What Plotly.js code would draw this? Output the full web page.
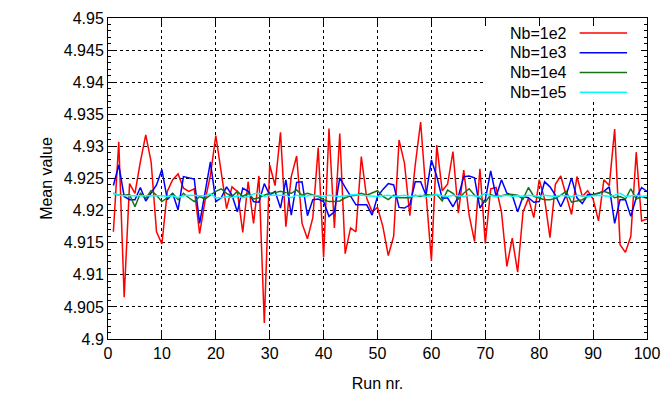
<!DOCTYPE html>
<html>
<head>
<meta charset="utf-8">
<script src="https://cdn.plot.ly/plotly-3.0.1.min.js"></script>
<style>html,body{margin:0;padding:0;background:#fff;}#plot{width:664px;height:399px;}</style>
</head>
<body>
<div id="plot"></div>
<script>
const runs = Array.from({length: 100}, (_, i) => i + 1);

const nb1e2 = [
 4.9167, 4.9307, 4.9065, 4.9242, 4.9227, 4.9276, 4.9318, 4.9276, 4.9167, 4.9148,
 4.9230, 4.9248, 4.9257, 4.9235, 4.9230, 4.9234, 4.9164, 4.9215, 4.9255, 4.9317,
 4.9260, 4.9203, 4.9237, 4.9230, 4.9166, 4.9245, 4.9180, 4.9254, 4.9025, 4.9271,
 4.9239, 4.9322, 4.9175, 4.9253, 4.9285, 4.9180, 4.9156, 4.9189, 4.9298, 4.9127,
 4.9328, 4.9173, 4.9320, 4.9133, 4.9173, 4.9167, 4.9284, 4.9219, 4.9198, 4.9205,
 4.9175, 4.9130, 4.9160, 4.9310, 4.9274, 4.9192, 4.9271, 4.9338, 4.9227, 4.9122,
 4.9302, 4.9231, 4.9241, 4.9292, 4.9196, 4.9263, 4.9193, 4.9152, 4.9265, 4.9149,
 4.9234, 4.9236, 4.9198, 4.9113, 4.9157, 4.9104, 4.9198, 4.9219, 4.9189, 4.9248,
 4.9218, 4.9158, 4.9241, 4.9254, 4.9224, 4.9194, 4.9253, 4.9222, 4.9231, 4.9218,
 4.9184, 4.9248, 4.9239, 4.9327, 4.9147, 4.9135, 4.9160, 4.9291, 4.9184, 4.9187
];

const nb1e3 = [
 4.9239, 4.9271, 4.9222, 4.9217, 4.9217, 4.9236, 4.9215, 4.9227, 4.9240, 4.9264,
 4.9217, 4.9227, 4.9201, 4.9253, 4.9251, 4.9249, 4.9180, 4.9230, 4.9276, 4.9214,
 4.9220, 4.9237, 4.9224, 4.9198, 4.9235, 4.9230, 4.9214, 4.9213, 4.9242, 4.9224,
 4.9230, 4.9204, 4.9248, 4.9193, 4.9244, 4.9245, 4.9192, 4.9217, 4.9218, 4.9214,
 4.9191, 4.9198, 4.9251, 4.9236, 4.9223, 4.9209, 4.9209, 4.9209, 4.9193, 4.9222,
 4.9233, 4.9242, 4.9240, 4.9205, 4.9204, 4.9209, 4.9245, 4.9245, 4.9224, 4.9279,
 4.9253, 4.9219, 4.9220, 4.9206, 4.9222, 4.9253, 4.9254, 4.9251, 4.9204, 4.9217,
 4.9262, 4.9222, 4.9248, 4.9227, 4.9224, 4.9198, 4.9222, 4.9220, 4.9213, 4.9214,
 4.9245, 4.9237, 4.9224, 4.9206, 4.9224, 4.9251, 4.9220, 4.9211, 4.9225, 4.9225,
 4.9227, 4.9230, 4.9237, 4.9180, 4.9217, 4.9217, 4.9191, 4.9220, 4.9236, 4.9230
];

const nb1e4 = [
 4.9227, 4.9224, 4.9224, 4.9225, 4.9206, 4.9227, 4.9219, 4.9231, 4.9224, 4.9214,
 4.9220, 4.9227, 4.9217, 4.9227, 4.9220, 4.9214, 4.9222, 4.9218, 4.9224, 4.9230,
 4.9234, 4.9227, 4.9222, 4.9230, 4.9222, 4.9227, 4.9218, 4.9220, 4.9224, 4.9227,
 4.9228, 4.9230, 4.9228, 4.9227, 4.9232, 4.9224, 4.9227, 4.9225, 4.9222, 4.9217,
 4.9214, 4.9214, 4.9215, 4.9220, 4.9223, 4.9224, 4.9227, 4.9224, 4.9227, 4.9231,
 4.9222, 4.9217, 4.9224, 4.9220, 4.9220, 4.9220, 4.9224, 4.9222, 4.9225, 4.9224,
 4.9225, 4.9215, 4.9232, 4.9227, 4.9218, 4.9227, 4.9234, 4.9224, 4.9219, 4.9213,
 4.9225, 4.9222, 4.9223, 4.9225, 4.9225, 4.9224, 4.9218, 4.9236, 4.9222, 4.9219,
 4.9217, 4.9217, 4.9219, 4.9224, 4.9230, 4.9213, 4.9215, 4.9217, 4.9222, 4.9225,
 4.9227, 4.9230, 4.9227, 4.9220, 4.9222, 4.9218, 4.9234, 4.9218, 4.9222, 4.9219
];

const nb1e5 = [
 4.9227, 4.9224, 4.9223, 4.9223, 4.9224, 4.9223, 4.9224, 4.9223, 4.9223, 4.9223,
 4.9222, 4.9223, 4.9220, 4.9223, 4.9224, 4.9223, 4.9223, 4.9223, 4.9226, 4.9220,
 4.9220, 4.9222, 4.9220, 4.9223, 4.9220, 4.9222, 4.9226, 4.9227, 4.9222, 4.9224,
 4.9224, 4.9223, 4.9224, 4.9220, 4.9224, 4.9222, 4.9223, 4.9224, 4.9223, 4.9222,
 4.9224, 4.9223, 4.9222, 4.9223, 4.9224, 4.9225, 4.9224, 4.9223, 4.9223, 4.9222,
 4.9223, 4.9224, 4.9222, 4.9223, 4.9224, 4.9222, 4.9223, 4.9224, 4.9222, 4.9223,
 4.9225, 4.9223, 4.9222, 4.9224, 4.9223, 4.9222, 4.9224, 4.9223, 4.9222, 4.9227,
 4.9223, 4.9222, 4.9223, 4.9224, 4.9222, 4.9223, 4.9222, 4.9224, 4.9223, 4.9222,
 4.9224, 4.9223, 4.9222, 4.9224, 4.9223, 4.9222, 4.9224, 4.9223, 4.9222, 4.9223,
 4.9224, 4.9223, 4.9222, 4.9224, 4.9227, 4.9222, 4.9223, 4.9224, 4.9222, 4.9223
];

const seriesNames = ["Nb=1e2", "Nb=1e3", "Nb=1e4", "Nb=1e5"];
const seriesData = [nb1e2, nb1e3, nb1e4, nb1e5];
const seriesColors = ["#ff0000", "#0000ff", "#167016", "#00ffff"];

const font = "Liberation Sans, Arial, sans-serif";

const traces = seriesData.map((ys, i) => ({
  x: runs, y: ys, type: "scatter", mode: "lines", name: seriesNames[i],
  line: {color: seriesColors[i], width: 1.5}, showlegend: false
}));

// custom gnuplot-like key: text on the left, line sample on the right
const shapes = [{
  type: "rect", xref: "paper", yref: "paper", layer: "above",
  x0: 0.696, x1: 0.985, y0: 0.745, y1: 0.975,
  fillcolor: "#ffffff", line: {width: 0}
}];
const annotations = [];
const rowTop = 0.953, rowStep = 0.0615;
seriesNames.forEach((nm, i) => {
  const yy = rowTop - i * rowStep;
  annotations.push({
    xref: "paper", yref: "paper", x: 0.855, y: yy, xanchor: "right", yanchor: "middle",
    text: nm, showarrow: false, font: {family: font, size: 16, color: "#000"}
  });
  shapes.push({
    type: "line", xref: "paper", yref: "paper", layer: "above",
    x0: 0.875, x1: 0.963, y0: yy, y1: yy,
    line: {color: seriesColors[i], width: 1.5}
  });
});

const layout = {
  width: 664, height: 399,
  margin: {l: 108, r: 17, t: 18, b: 60},
  paper_bgcolor: "#fff", plot_bgcolor: "#fff",
  font: {family: font, size: 16, color: "#000"},
  showlegend: false,
  xaxis: {
    range: [0, 100], dtick: 10, tick0: 0,
    showgrid: true, gridcolor: "#000", griddash: "dot", gridwidth: 1,
    zeroline: false, showline: true, linecolor: "#000", linewidth: 1, mirror: "ticks",
    ticks: "inside", ticklen: 6, tickcolor: "#000",
    tickfont: {family: font, size: 16},
    title: {text: "Run nr.", font: {family: font, size: 16}, standoff: 16}
  },
  yaxis: {
    range: [4.9, 4.95], dtick: 0.005, tick0: 4.9,
    showgrid: true, gridcolor: "#000", griddash: "dot", gridwidth: 1,
    zeroline: false, showline: true, linecolor: "#000", linewidth: 1, mirror: "ticks",
    ticks: "inside", ticklen: 6, tickcolor: "#000",
    minor: {dtick: 0.001, ticks: "inside", ticklen: 3, tickcolor: "#000", showgrid: false},
    tickfont: {family: font, size: 16},
    title: {text: "Mean value", font: {family: font, size: 16}, standoff: 7}
  },
  shapes: shapes,
  annotations: annotations
};

Plotly.newPlot("plot", traces, layout, {staticPlot: true, displayModeBar: false});
</script>
</body>
</html>
